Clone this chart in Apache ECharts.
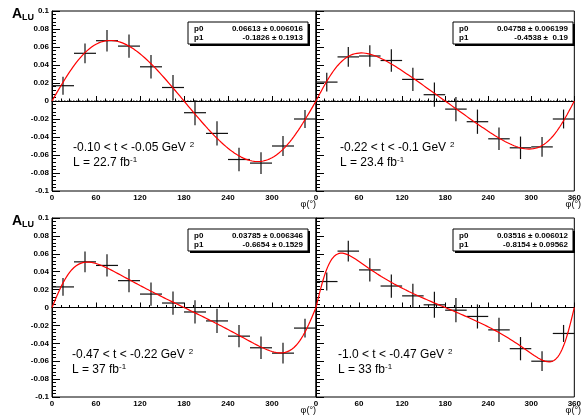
<!DOCTYPE html>
<html><head><meta charset="utf-8">
<script src="https://cdn.jsdelivr.net/npm/echarts@6/dist/echarts.min.js"></script>
<style>html,body{margin:0;padding:0;background:#fff}#c{width:584px;height:419px}</style>
</head><body><div id="c"></div>
<script>
// ---- data ----
const binCenters = [15, 45, 75, 105, 135, 165, 195, 225, 255, 285, 315, 345];
const binHalfWidth = 15;
const phiTicks = [0, 60, 120, 180, 240, 300, 360];
const aluTicks = [-0.1, -0.08, -0.06, -0.04, -0.02, 0, 0.02, 0.04, 0.06, 0.08, 0.1];

const aluP1 = [0.017, 0.053, 0.067, 0.061, 0.038, 0.015, -0.013, -0.036, -0.065, -0.069, -0.050, -0.020];
const errP1 = [0.010, 0.011, 0.012, 0.013, 0.013, 0.014, 0.014, 0.0135, 0.013, 0.012, 0.011, 0.010];
const aluP2 = [0.021, 0.049, 0.050, 0.045, 0.024, 0.007, -0.009, -0.023, -0.042, -0.052, -0.051, -0.020];
const errP2 = [0.0105, 0.011, 0.012, 0.0125, 0.013, 0.0135, 0.0135, 0.0135, 0.0125, 0.0125, 0.011, 0.0105];
const aluP3 = [0.023, 0.051, 0.047, 0.030, 0.015, 0.005, -0.005, -0.015, -0.032, -0.045, -0.051, -0.023];
const errP3 = [0.010, 0.0115, 0.0125, 0.013, 0.013, 0.013, 0.013, 0.0135, 0.0125, 0.0125, 0.0115, 0.0105];
const aluP4 = [0.029, 0.063, 0.042, 0.024, 0.013, 0.003, -0.003, -0.010, -0.025, -0.046, -0.060, -0.029];
const errP4 = [0.010, 0.0115, 0.013, 0.013, 0.0135, 0.0145, 0.0135, 0.0135, 0.0135, 0.013, 0.011, 0.0095];

// fit parameters shown in the stat boxes: A = p0 sin(phi) / (1 + p1 cos(phi))
const fitP0 = [0.06613, 0.04758, 0.03785, 0.03516];
const fitP0Err = ['0.006016', '0.006199', '0.006346', '0.006012'];
const fitP1 = [-0.1826, -0.4538, -0.6654, -0.8154];
const fitP1Err = ['0.1913', ' 0.19', '0.1529', '0.09562'];

const tRanges = ['-0.10 < t < -0.05', '-0.22 < t < -0.1', '-0.47 < t < -0.22', '-1.0 < t < -0.47'];
const lumis = ['22.7', '23.4', '37', '33'];

// ---- layout ----
const alus = [aluP1, aluP2, aluP3, aluP4];
const errs = [errP1, errP2, errP3, errP4];
const grids = [
  {left: 52, top: 11, width: 264, height: 180},
  {left: 316, top: 11, width: 265, height: 180},
  {left: 52, top: 218, width: 264, height: 179},
  {left: 316, top: 218, width: 265, height: 179}
];
const textPos = [[73, 141], [340, 141], [72, 348], [338, 348]];
const FONT = 'Liberation Sans, Arial, Helvetica, sans-serif';

function fitCurve(i) {
  const pts = [];
  for (let d = phiTicks[0]; d <= phiTicks[phiTicks.length - 1]; d += 1) {
    const r = d * Math.PI / 180;
    pts.push([d, fitP0[i] * Math.sin(r) / (1 + fitP1[i] * Math.cos(r))]);
  }
  return pts;
}

const xMin = phiTicks[0], xMax = phiTicks[phiTicks.length - 1], xStep = phiTicks[1] - phiTicks[0];
const yMin = aluTicks[0], yMax = aluTicks[aluTicks.length - 1], yStep = +(aluTicks[1] - aluTicks[0]).toFixed(4);

const xAxis = [], yAxis = [], series = [], titles = [], graphics = [];
grids.forEach((g, i) => {
  const leftPanel = (i % 2 === 0);
  xAxis.push({
    gridIndex: i, type: 'value', min: xMin, max: xMax, interval: xStep,
    axisLine: {lineStyle: {color: '#000', width: 1}},
    axisTick: {inside: true, length: 5, lineStyle: {color: '#000'}},
    minorTick: {show: true, splitNumber: 5, length: 2.5, lineStyle: {color: '#000'}},
    splitLine: {show: false},
    axisLabel: {
      color: '#000', fontFamily: FONT, fontWeight: 'bold', fontSize: 8, margin: 3,
      formatter: v => (leftPanel && v === xMax) ? '' : String(v)
    }
  });
  yAxis.push({
    gridIndex: i, type: 'value', min: yMin, max: yMax, interval: yStep,
    axisLine: {show: true, lineStyle: {color: '#000', width: 1}},
    axisTick: {inside: true, length: 8, lineStyle: {color: '#000'}},
    minorTick: {show: true, splitNumber: 5, length: 4, lineStyle: {color: '#000'}},
    splitLine: {show: false},
    axisLabel: {
      show: leftPanel, color: '#000', fontFamily: FONT, fontWeight: 'bold', fontSize: 8, margin: 3,
      formatter: v => String(+v.toFixed(3))
    }
  });
  series.push({
    type: 'line', xAxisIndex: i, yAxisIndex: i, data: [[xMin, 0], [xMax, 0]],
    symbol: 'none', silent: true, z: 1,
    lineStyle: {color: '#000', width: 1, type: [1.5, 1.5]}
  });
  series.push({
    type: 'custom', xAxisIndex: i, yAxisIndex: i, z: 3, silent: true,
    data: binCenters.map((c, k) => [c, alus[i][k], binHalfWidth, errs[i][k]]),
    encode: {x: 0, y: 1},
    renderItem: (params, api) => {
      const x = api.value(0), y = api.value(1), ex = api.value(2), ey = api.value(3);
      const l = api.coord([x - ex, y]), r = api.coord([x + ex, y]);
      const t = api.coord([x, y + ey]), b = api.coord([x, y - ey]);
      const st = {stroke: '#111', lineWidth: 1.2};
      return {type: 'group', children: [
        {type: 'line', shape: {x1: l[0], y1: l[1], x2: r[0], y2: r[1]}, style: st},
        {type: 'line', shape: {x1: t[0], y1: t[1], x2: b[0], y2: b[1]}, style: st}
      ]};
    }
  });
  series.push({
    type: 'line', xAxisIndex: i, yAxisIndex: i, data: fitCurve(i),
    symbol: 'none', silent: true, z: 4, smooth: false,
    lineStyle: {color: '#ff0000', width: 1.2}
  });

  // annotation text
  const tp = textPos[i];
  titles.push({
    left: tp[0], top: tp[1], padding: 0,
    text: tRanges[i] + ' GeV{sup|2}',
    textStyle: {fontFamily: FONT, fontSize: 12, fontWeight: 'normal', color: '#000',
      rich: {sup: {fontFamily: FONT, fontSize: 8, color: '#000', padding: [0, 0, 5, 4]}}}
  });
  titles.push({
    left: tp[0], top: tp[1] + 15, padding: 0,
    text: 'L = ' + lumis[i] + ' fb{sup|-1}',
    textStyle: {fontFamily: FONT, fontSize: 12, fontWeight: 'normal', color: '#000',
      rich: {sup: {fontFamily: FONT, fontSize: 8, color: '#000', padding: [0, 0, 5, 0]}}}
  });

  // stat box
  const bw = 120, bh = 22;
  const bx = g.left + g.width - 8 - bw, by = g.top + 11;
  const tf = 'bold 8px ' + FONT;
  graphics.push({type: 'rect', shape: {x: bx + 2, y: by + 2, width: bw, height: bh}, style: {fill: '#000'}, z: 10});
  graphics.push({type: 'rect', shape: {x: bx, y: by, width: bw, height: bh}, style: {fill: '#fff', stroke: '#000', lineWidth: 1}, z: 11});
  graphics.push({type: 'text', x: bx + 6, y: by + 6.5, z: 12, style: {text: 'p0', font: tf, fill: '#000', align: 'left', verticalAlign: 'middle'}});
  graphics.push({type: 'text', x: bx + 6, y: by + 15.5, z: 12, style: {text: 'p1', font: tf, fill: '#000', align: 'left', verticalAlign: 'middle'}});
  graphics.push({type: 'text', x: bx + bw - 5, y: by + 6.5, z: 12, style: {text: fitP0[i] + ' \u00b1 ' + fitP0Err[i], font: tf, fill: '#000', align: 'right', verticalAlign: 'middle'}});
  graphics.push({type: 'text', x: bx + bw - 5, y: by + 15.5, z: 12, style: {text: fitP1[i] + ' \u00b1 ' + fitP1Err[i], font: tf, fill: '#000', align: 'right', verticalAlign: 'middle'}});

  // x-axis title
  graphics.push({type: 'text', x: g.left + g.width, y: g.top + g.height + 14, z: 12,
    style: {text: '\u03c6(\u00b0)', font: '9px ' + FONT, fill: '#000', align: 'right', verticalAlign: 'middle'}});
});

// y-axis titles
[11, 218].forEach(t => {
  titles.push({
    left: 12, top: t - 4, padding: 0,
    text: '{a|A}{s|LU}',
    textStyle: {rich: {
      a: {fontFamily: FONT, fontSize: 14, fontWeight: 'bold', color: '#000'},
      s: {fontFamily: FONT, fontSize: 9, fontWeight: 'bold', color: '#000', padding: [6, 0, 0, 0]}
    }}
  });
});

const chart = echarts.init(document.getElementById('c'));
chart.setOption({
  animation: false,
  backgroundColor: '#fff',
  grid: grids.map(g => Object.assign({show: true, borderColor: '#000', borderWidth: 1, backgroundColor: 'transparent'}, g)),
  xAxis, yAxis, series, title: titles, graphic: graphics
});
</script>
</body></html>
